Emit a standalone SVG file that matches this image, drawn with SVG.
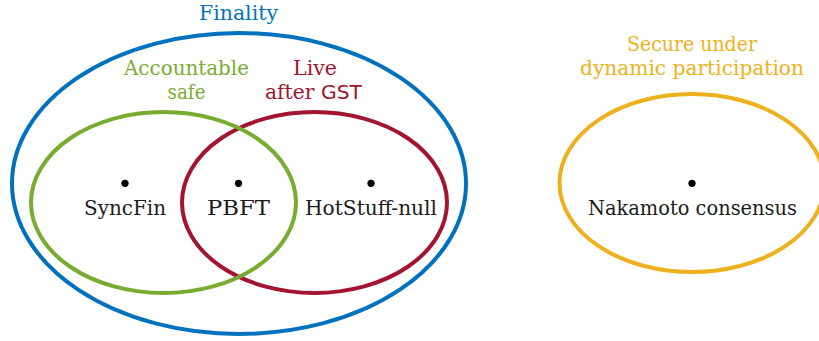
<svg xmlns="http://www.w3.org/2000/svg" width="819" height="341" viewBox="0 0 819 341">
<style>
.set{fill:none;stroke-width:4}
text{font-family:'DejaVu Serif','Liberation Serif',serif;font-size:20px;text-anchor:middle}
.lbl{fill:#1a1a1a}
.sans{font-family:'DejaVu Sans','Liberation Sans',sans-serif}
.dot{fill:#000}
</style>
<rect width="819" height="341" fill="#fff"/>
<g id="finality">
<ellipse class="set" cx="239" cy="183.5" rx="227" ry="150.5" stroke="#0072BD"/>
<text x="238.5" y="20" fill="#0072BD" textLength="79" lengthAdjust="spacingAndGlyphs">Finality</text>
</g>
<g id="live">
<ellipse class="set" cx="314.5" cy="202.5" rx="132.5" ry="90.5" stroke="#A2142F"/>
<text x="315" y="75" fill="#A2142F" textLength="44" lengthAdjust="spacingAndGlyphs">Live</text>
<text x="313.5" y="99" fill="#A2142F" textLength="97" lengthAdjust="spacingAndGlyphs">after <tspan class="sans">GST</tspan></text>
</g>
<g id="accountable">
<ellipse class="set" cx="163.5" cy="202.5" rx="132.5" ry="90.5" stroke="#77AC30"/>
<text x="186.5" y="75" fill="#77AC30" textLength="125" lengthAdjust="spacingAndGlyphs">Accountable</text>
<text x="186.5" y="99" fill="#77AC30" textLength="38" lengthAdjust="spacingAndGlyphs">safe</text>
</g>
<g id="dynamic">
<ellipse class="set" cx="692" cy="183" rx="132.5" ry="89" stroke="#EDB120"/>
<text x="692" y="51" fill="#EDB120" textLength="130" lengthAdjust="spacingAndGlyphs">Secure under</text>
<text x="692" y="75" fill="#EDB120" textLength="224" lengthAdjust="spacingAndGlyphs">dynamic participation</text>
</g>
<g id="syncfin">
<circle class="dot" cx="125" cy="183.3" r="3.6"/>
<text class="lbl" x="125" y="215" textLength="82" lengthAdjust="spacingAndGlyphs">SyncFin</text>
</g>
<g id="pbft">
<circle class="dot" cx="238.5" cy="183.3" r="3.6"/>
<text class="lbl" x="238.5" y="215" textLength="63" lengthAdjust="spacingAndGlyphs">PBFT</text>
</g>
<g id="hotstuff">
<circle class="dot" cx="371" cy="183.3" r="3.6"/>
<text class="lbl" x="371" y="215" textLength="132" lengthAdjust="spacingAndGlyphs">HotStuff-null</text>
</g>
<g id="nakamoto">
<circle class="dot" cx="692" cy="183.3" r="3.6"/>
<text class="lbl" x="692.5" y="215" textLength="209" lengthAdjust="spacingAndGlyphs">Nakamoto consensus</text>
</g>
<g id="connectors"></g>
</svg>
